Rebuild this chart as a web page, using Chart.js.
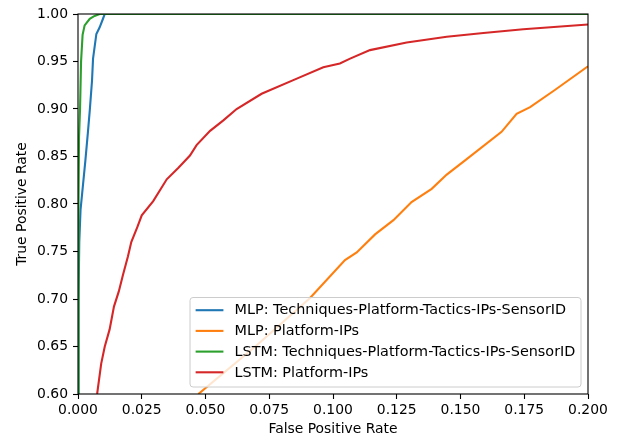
<!DOCTYPE html>
<html>
<head>
<meta charset="utf-8">
<script src="https://cdn.jsdelivr.net/npm/chart.js@4/dist/chart.umd.min.js"></script>
<style>
    html, body { margin: 0; padding: 0; background: #fff; }
    #wrap { width: 630px; height: 441px; }
</style>
</head>
<body>
<div id="wrap"><canvas id="roc-chart" width="630" height="441"></canvas></div>
<script>
// 軸の目盛り
const xTicks = [0, 0.025, 0.05, 0.075, 0.1, 0.125, 0.15, 0.175, 0.2];
const yTicks = [0.6, 0.65, 0.7, 0.75, 0.8, 0.85, 0.9, 0.95, 1.0];

// 系列名
const seriesLabels = [
    'MLP: Techniques-Platform-Tactics-IPs-SensorID',
    'MLP: Platform-IPs',
    'LSTM: Techniques-Platform-Tactics-IPs-SensorID',
    'LSTM: Platform-IPs'
];
const seriesColors = ['#1f77b4', '#ff7f0e', '#2ca02c', '#d62728'];

// MLP: Techniques-Platform-Tactics-IPs-SensorID
const mlpFullFpr = [0.0000, 0.0002, 0.0005, 0.0010, 0.0029, 0.0039, 0.0046, 0.0055, 0.0059, 0.0072, 0.0085, 0.0098, 0.0105, 0.2000];
const mlpFullTpr = [0.600, 0.700, 0.760, 0.794, 0.846, 0.876, 0.898, 0.930, 0.953, 0.979, 0.986, 0.995, 1.000, 1.000];

// MLP: Platform-IPs
const mlpPlatFpr = [0.0472, 0.0700, 0.0910, 0.1047, 0.1093, 0.1165, 0.1237, 0.1308, 0.1387, 0.1446, 0.1518, 0.1661, 0.1720, 0.1773, 0.1870, 0.2000];
const mlpPlatTpr = [0.600, 0.651, 0.701, 0.741, 0.749, 0.768, 0.783, 0.802, 0.816, 0.831, 0.846, 0.876, 0.895, 0.902, 0.920, 0.945];

// LSTM: Techniques-Platform-Tactics-IPs-SensorID
const lstmFullFpr = [0.0000, 0.0002, 0.0004, 0.0008, 0.0012, 0.0018, 0.0026, 0.0046, 0.0065, 0.0085, 0.2000];
const lstmFullTpr = [0.600, 0.800, 0.870, 0.900, 0.950, 0.978, 0.988, 0.995, 0.998, 1.000, 1.000];

// LSTM: Platform-IPs
const lstmPlatFpr = [0.0075, 0.0091, 0.0105, 0.0124, 0.0141, 0.0160, 0.0176, 0.0196, 0.0209, 0.0233, 0.0250, 0.0295, 0.0348, 0.0393, 0.0439, 0.0465, 0.0518, 0.0570, 0.0622, 0.0720, 0.0858, 0.0962, 0.1027, 0.1067, 0.1145, 0.1289, 0.1446, 0.1590, 0.1746, 0.2000];
const lstmPlatTpr = [0.600, 0.632, 0.650, 0.668, 0.692, 0.708, 0.725, 0.745, 0.760, 0.776, 0.788, 0.803, 0.826, 0.838, 0.851, 0.862, 0.877, 0.888, 0.900, 0.916, 0.932, 0.944, 0.948, 0.953, 0.962, 0.970, 0.976, 0.980, 0.984, 0.989];

const FONT = '"DejaVu Sans", sans-serif';
const FONT_SIZE = 13.9;
const LEGEND_FONT_SIZE = 14.4;

// x, y の配列から点データを作る
function toPoints(xs, ys) {
    return xs.map((x, i) => ({ x: x, y: ys[i] }));
}

// 枠線（上下左右のスパイン）
const framePlugin = {
    id: 'frame',
    afterDatasetsDraw(chart) {
        const { ctx, chartArea: a } = chart;
        ctx.save();
        ctx.strokeStyle = '#000';
        ctx.lineWidth = 1.1;
        ctx.strokeRect(a.left, a.top, a.right - a.left, a.bottom - a.top);
        ctx.restore();
    }
};

// 右下の凡例（matplotlib風）
const legendPlugin = {
    id: 'boxLegend',
    afterDraw(chart) {
        const { ctx, chartArea: a } = chart;
        const pad = 5.6;
        const handleLen = 27.8;
        const gap = 11.1;
        const rowH = 20.7;

        ctx.save();
        ctx.font = LEGEND_FONT_SIZE + 'px ' + FONT;
        const textW = Math.max(...seriesLabels.map(t => ctx.measureText(t).width));
        const boxW = pad + handleLen + gap + textW + pad;
        const boxH = 89.5;
        const right = a.right - 7;
        const bottom = a.bottom - 7;
        const left = right - boxW;
        const top = bottom - boxH;

        ctx.beginPath();
        ctx.roundRect(left, top, boxW, boxH, 3);
        ctx.fillStyle = 'rgba(255,255,255,0.8)';
        ctx.fill();
        ctx.strokeStyle = '#cccccc';
        ctx.lineWidth = 1;
        ctx.stroke();

        seriesLabels.forEach((label, i) => {
            const y = top + 12.7 + i * rowH;
            ctx.beginPath();
            ctx.moveTo(left + pad, y);
            ctx.lineTo(left + pad + handleLen, y);
            ctx.strokeStyle = seriesColors[i];
            ctx.lineWidth = 2.1;
            ctx.stroke();

            ctx.fillStyle = '#000';
            ctx.textBaseline = 'middle';
            ctx.textAlign = 'left';
            ctx.fillText(label, left + pad + handleLen + gap, y + 0.5);
        });
        ctx.restore();
    }
};

function initRocChart() {
    const ctx = document.getElementById('roc-chart');
    const series = [
        toPoints(mlpFullFpr, mlpFullTpr),
        toPoints(mlpPlatFpr, mlpPlatTpr),
        toPoints(lstmFullFpr, lstmFullTpr),
        toPoints(lstmPlatFpr, lstmPlatTpr)
    ];

    new Chart(ctx, {
        type: 'line',
        data: {
            datasets: series.map((data, i) => ({
                label: seriesLabels[i],
                data: data,
                borderColor: seriesColors[i],
                backgroundColor: seriesColors[i],
                borderWidth: 2.1,
                pointRadius: 0,
                tension: 0,
                fill: false,
                clip: 0,
                order: seriesLabels.length - i
            }))
        },
        options: {
            responsive: false,
            animation: false,
            layout: {
                padding: { left: 0, right: 42, top: 14, bottom: 0 }
            },
            plugins: {
                legend: { display: false },
                tooltip: { enabled: false }
            },
            scales: {
                x: {
                    type: 'linear',
                    min: 0,
                    max: 0.2,
                    afterFit: scale => { scale.height = 47; },
                    afterBuildTicks: scale => { scale.ticks = xTicks.map(v => ({ value: v })); },
                    ticks: {
                        color: '#000',
                        padding: 3.5,
                        maxRotation: 0,
                        font: { family: FONT, size: FONT_SIZE },
                        callback: value => Number(value).toFixed(3)
                    },
                    grid: {
                        drawOnChartArea: false,
                        drawTicks: true,
                        tickLength: 5,
                        tickWidth: 1.1,
                        color: '#000'
                    },
                    border: { display: false },
                    title: {
                        display: true,
                        text: 'False Positive Rate',
                        color: '#000',
                        font: { family: FONT, size: FONT_SIZE },
                        padding: { top: 0, bottom: 3 }
                    }
                },
                y: {
                    type: 'linear',
                    min: 0.6,
                    max: 1.0,
                    afterFit: scale => { scale.width = 78; },
                    afterBuildTicks: scale => { scale.ticks = yTicks.map(v => ({ value: v })); },
                    ticks: {
                        color: '#000',
                        padding: 5,
                        font: { family: FONT, size: FONT_SIZE },
                        callback: value => Number(value).toFixed(2)
                    },
                    grid: {
                        drawOnChartArea: false,
                        drawTicks: true,
                        tickLength: 5,
                        tickWidth: 1.1,
                        color: '#000'
                    },
                    border: { display: false },
                    title: {
                        display: true,
                        text: 'True Positive Rate',
                        color: '#000',
                        font: { family: FONT, size: FONT_SIZE },
                        padding: { top: 14, bottom: 0 }
                    }
                }
            }
        },
        plugins: [framePlugin, legendPlugin]
    });
}

document.addEventListener('DOMContentLoaded', initRocChart);
</script>
</body>
</html>
